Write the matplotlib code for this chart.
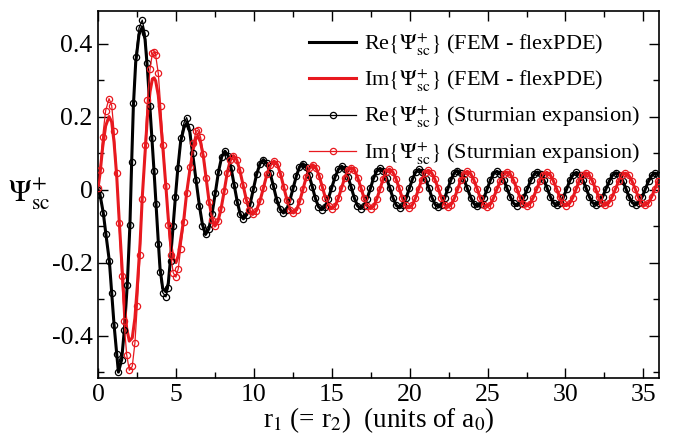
import numpy as np
import matplotlib
matplotlib.use("Agg")
import matplotlib.pyplot as plt
from matplotlib.ticker import MultipleLocator, FuncFormatter

plt.rcParams["font.family"] = ["Liberation Serif", "DejaVu Serif"]
plt.rcParams["mathtext.fontset"] = "stix"
plt.rcParams["axes.unicode_minus"] = False

# ---- Re{Psi_sc^+} : near-origin part (r in units of a0) ----
r_re_head = [0.00, 0.13, 0.34, 0.51, 0.73, 0.88, 1.03, 1.20, 1.31, 1.52,
             1.69, 1.88, 2.05, 2.16, 2.27, 2.42, 2.63, 2.84, 3.02, 3.17,
             3.34, 3.47, 3.60, 3.72, 3.87, 3.98, 4.15, 4.36, 4.51, 4.66,
             4.83, 4.97, 5.12, 5.30, 5.52, 5.69, 5.89, 6.09, 6.30, 6.50,
             6.70]
re_sturm_head = [0.000, -0.014, -0.064, -0.123, -0.196, -0.283, -0.370, -0.450, -0.500, -0.466,
                 -0.384, -0.260, -0.096, 0.076, 0.237, 0.363, 0.442, 0.464, 0.428, 0.346,
                 0.230, 0.140, 0.050, -0.040, -0.150, -0.225, -0.282, -0.294, -0.270, -0.196,
                 -0.100, -0.020, 0.060, 0.140, 0.183, 0.197, 0.170, 0.100, 0.025, -0.045,
                 -0.100]
re_fem_head = [0.000, -0.014, -0.064, -0.123, -0.196, -0.283, -0.370, -0.450, -0.500, -0.466,
               -0.384, -0.260, -0.096, 0.073, 0.228, 0.348, 0.424, 0.445, 0.411, 0.332,
               0.221, 0.134, 0.048, -0.038, -0.143, -0.215, -0.270, -0.280, -0.257, -0.187,
               -0.095, -0.019, 0.056, 0.130, 0.170, 0.182, 0.158, 0.093, 0.023, -0.042,
               -0.095]

# ---- Re{Psi_sc^+} : asymptotic part (both methods agree) ----
r_re_tail = [6.90, 7.11, 7.32, 7.53, 7.73, 7.94, 8.15, 8.35, 8.54, 8.74, 8.94, 9.13,
             9.33, 9.54, 9.76, 9.97, 10.18, 10.40, 10.61, 10.83, 11.04, 11.26, 11.47, 11.69,
             11.90, 12.11, 12.31, 12.52, 12.73, 12.93, 13.14, 13.34, 13.54, 13.75, 13.95, 14.15,
             14.35, 14.57, 14.78, 15.00, 15.21, 15.43, 15.64, 15.84, 16.04, 16.25, 16.45, 16.65,
             16.85, 17.06, 17.27, 17.48, 17.68, 17.89, 18.10, 18.31, 18.52, 18.73, 18.93, 19.14,
             19.35, 19.56, 19.77, 19.98, 20.18, 20.39, 20.60, 20.81, 21.02, 21.23, 21.43, 21.64,
             21.85, 22.05, 22.25, 22.45, 22.65, 22.85, 23.05, 23.27, 23.48, 23.70, 23.92, 24.13,
             24.35, 24.56, 24.77, 24.98, 25.18, 25.39, 25.60, 25.82, 26.03, 26.25, 26.47, 26.68,
             26.90, 27.12, 27.33, 27.55, 27.77, 27.98, 28.20, 28.41, 28.62, 28.83, 29.03, 29.24,
             29.45, 29.66, 29.87, 30.08, 30.28, 30.49, 30.70, 30.91, 31.12, 31.33, 31.53, 31.74,
             31.95, 32.17, 32.38, 32.60, 32.82, 33.03, 33.25, 33.46, 33.67, 33.88, 34.08, 34.29,
             34.50, 34.71, 34.92, 35.13, 35.33, 35.54, 35.75, 35.96]
re_tail = [-0.123, -0.108, -0.066, -0.009, 0.048, 0.090, 0.105, 0.093, 0.059, 0.013, -0.034, -0.068,
           -0.080, -0.069, -0.040, 0.001, 0.042, 0.071, 0.082, 0.072, 0.046, 0.009, -0.028, -0.054,
           -0.064, -0.055, -0.030, 0.004, 0.037, 0.062, 0.071, 0.063, 0.040, 0.008, -0.024, -0.047,
           -0.055, -0.047, -0.025, 0.005, 0.034, 0.056, 0.064, 0.056, 0.035, 0.006, -0.023, -0.044,
           -0.052, -0.045, -0.025, 0.003, 0.031, 0.051, 0.058, 0.051, 0.031, 0.004, -0.023, -0.043,
           -0.050, -0.043, -0.024, 0.003, 0.029, 0.048, 0.055, 0.048, 0.029, 0.004, -0.022, -0.041,
           -0.048, -0.041, -0.023, 0.002, 0.027, 0.045, 0.052, 0.045, 0.028, 0.003, -0.022, -0.039,
           -0.046, -0.040, -0.022, 0.002, 0.026, 0.044, 0.050, 0.044, 0.027, 0.003, -0.021, -0.038,
           -0.044, -0.038, -0.021, 0.002, 0.025, 0.042, 0.048, 0.042, 0.025, 0.003, -0.020, -0.037,
           -0.043, -0.037, -0.021, 0.002, 0.025, 0.041, 0.047, 0.041, 0.025, 0.003, -0.020, -0.036,
           -0.042, -0.036, -0.020, 0.002, 0.024, 0.040, 0.046, 0.040, 0.024, 0.002, -0.020, -0.036,
           -0.042, -0.036, -0.020, 0.002, 0.023, 0.039, 0.045, 0.040]

# ---- Im{Psi_sc^+} : near-origin part ----
r_im_head = [0.00, 0.13, 0.30, 0.49, 0.71, 0.88, 1.03, 1.20, 1.35, 1.52,
             1.67, 1.84, 2.01, 2.20, 2.37, 2.52, 2.70, 2.84, 3.02, 3.17,
             3.34, 3.49, 3.60, 3.70, 3.87, 4.02, 4.19, 4.36, 4.51, 4.66,
             4.83, 5.00, 5.15, 5.30, 5.52, 5.69, 5.90, 6.12, 6.29, 6.40,
             6.58, 6.77, 6.95, 7.13, 7.32]
im_sturm_head = [0.005, 0.053, 0.144, 0.216, 0.249, 0.230, 0.160, 0.046, -0.091, -0.236,
                 -0.361, -0.452, -0.495, -0.484, -0.420, -0.318, -0.178, -0.027, 0.121, 0.245,
                 0.330, 0.373, 0.378, 0.368, 0.318, 0.230, 0.123, 0.009, -0.096, -0.178,
                 -0.228, -0.240, -0.217, -0.164, -0.090, -0.010, 0.063, 0.127, 0.160, 0.162,
                 0.144, 0.097, 0.031, -0.035, -0.082]
im_fem_head = [0.004, 0.043, 0.116, 0.174, 0.200, 0.185, 0.130, 0.038, -0.076, -0.198,
               -0.303, -0.380, -0.415, -0.406, -0.352, -0.266, -0.148, -0.022, 0.099, 0.200,
               0.268, 0.303, 0.306, 0.298, 0.258, 0.187, 0.100, 0.007, -0.079, -0.147,
               -0.190, -0.200, -0.181, -0.138, -0.077, -0.009, 0.055, 0.112, 0.142, 0.146,
               0.130, 0.088, 0.028, -0.033, -0.078]

# ---- Im{Psi_sc^+} : asymptotic part ----
r_im_tail = [7.50, 7.70, 7.90, 8.10, 8.29, 8.49, 8.69, 8.90, 9.10, 9.31, 9.52, 9.72,
             9.93, 10.16, 10.39, 10.62, 10.84, 11.07, 11.30, 11.51, 11.71, 11.92, 12.13, 12.33,
             12.54, 12.75, 12.95, 13.16, 13.37, 13.57, 13.78, 13.98, 14.19, 14.39, 14.59, 14.80,
             15.00, 15.21, 15.42, 15.63, 15.83, 16.04, 16.25, 16.46, 16.67, 16.88, 17.08, 17.29,
             17.50, 17.70, 17.90, 18.10, 18.30, 18.50, 18.70, 18.91, 19.12, 19.33, 19.53, 19.74,
             19.95, 20.16, 20.37, 20.58, 20.78, 20.99, 21.20, 21.41, 21.62, 21.83, 22.03, 22.24,
             22.45, 22.66, 22.87, 23.08, 23.28, 23.49, 23.70, 23.91, 24.12, 24.33, 24.53, 24.74,
             24.95, 25.17, 25.38, 25.60, 25.82, 26.03, 26.25, 26.46, 26.67, 26.88, 27.08, 27.29,
             27.50, 27.72, 27.93, 28.15, 28.37, 28.58, 28.80, 29.01, 29.22, 29.43, 29.63, 29.84,
             30.05, 30.26, 30.47, 30.68, 30.88, 31.09, 31.30, 31.51, 31.72, 31.93, 32.13, 32.34,
             32.55, 32.77, 32.98, 33.20, 33.42, 33.63, 33.85, 34.06, 34.27, 34.48, 34.68, 34.89,
             35.10, 35.31, 35.52, 35.73, 35.93]
im_tail = [-0.100, -0.087, -0.052, -0.004, 0.045, 0.080, 0.093, 0.082, 0.053, 0.013, -0.028, -0.057,
           -0.068, -0.058, -0.032, 0.005, 0.042, 0.068, 0.078, 0.069, 0.043, 0.007, -0.029, -0.055,
           -0.064, -0.055, -0.031, 0.002, 0.035, 0.059, 0.068, 0.060, 0.038, 0.008, -0.022, -0.044,
           -0.052, -0.045, -0.024, 0.004, 0.032, 0.053, 0.060, 0.053, 0.032, 0.004, -0.024, -0.045,
           -0.052, -0.045, -0.025, 0.002, 0.029, 0.049, 0.056, 0.049, 0.030, 0.003, -0.024, -0.043,
           -0.050, -0.043, -0.024, 0.002, 0.027, 0.046, 0.053, 0.046, 0.028, 0.003, -0.023, -0.041,
           -0.048, -0.041, -0.024, 0.001, 0.026, 0.043, 0.050, 0.044, 0.026, 0.002, -0.023, -0.041,
           -0.047, -0.041, -0.023, 0.001, 0.024, 0.042, 0.048, 0.042, 0.025, 0.002, -0.022, -0.039,
           -0.045, -0.039, -0.022, 0.001, 0.024, 0.041, 0.047, 0.041, 0.024, 0.002, -0.021, -0.038,
           -0.044, -0.038, -0.022, 0.001, 0.024, 0.040, 0.046, 0.040, 0.024, 0.002, -0.021, -0.037,
           -0.043, -0.037, -0.021, 0.001, 0.023, 0.039, 0.045, 0.039, 0.023, 0.001, -0.021, -0.037,
           -0.043, -0.037, -0.021, 0.001, 0.023]

series_labels = [
    r"Re$\{\Psi_{\rm sc}^{+}\}$ (FEM - flexPDE)",
    r"Im$\{\Psi_{\rm sc}^{+}\}$ (FEM - flexPDE)",
    r"Re$\{\Psi_{\rm sc}^{+}\}$ (Sturmian expansion)",
    r"Im$\{\Psi_{\rm sc}^{+}\}$ (Sturmian expansion)",
]
y_ticks = [-0.4, -0.2, 0.0, 0.2, 0.4]
x_ticks = [0, 5, 10, 15, 20, 25, 30, 35]

BLACK = "#000000"
RED = "#e8191f"

r_re = np.concatenate([r_re_head, r_re_tail])
r_im = np.concatenate([r_im_head, r_im_tail])
re_fem = np.concatenate([re_fem_head, re_tail])
re_sturm = np.concatenate([re_sturm_head, re_tail])
im_fem = np.concatenate([im_fem_head, im_tail])
im_sturm = np.concatenate([im_sturm_head, im_tail])

fig = plt.figure(figsize=(6.8, 4.42), dpi=100)
ax = fig.add_axes([0.1441, 0.1448, 0.8250, 0.8303])

ax.plot(r_re, re_fem, color=BLACK, lw=2.2, label=series_labels[0], zorder=2)
ax.plot(r_im, im_fem, color=RED, lw=2.2, label=series_labels[1], zorder=2)
ax.plot(r_re, re_sturm, color=BLACK, lw=0.9, marker="o", ms=4.5, mfc="none",
        mec=BLACK, mew=0.9, label=series_labels[2], zorder=3)
ax.plot(r_im, im_sturm, color=RED, lw=0.9, marker="o", ms=4.5, mfc="none",
        mec=RED, mew=0.9, label=series_labels[3], zorder=4)

ax.set_xlim(0, 36)
ax.set_ylim(-0.516, 0.489)
ax.xaxis.set_minor_locator(MultipleLocator(2.5))
ax.yaxis.set_minor_locator(MultipleLocator(0.1))
ax.set_xticks(x_ticks)
ax.set_yticks(y_ticks)
ax.yaxis.set_major_formatter(FuncFormatter(lambda v, p: f"{v:g}".replace("\u2212", "-")))
ax.tick_params(which="both", direction="in", top=True, right=True, labelsize=18.5)
ax.tick_params(which="major", length=7, width=1.0, pad=4)
ax.tick_params(which="minor", length=4, width=1.0)
for s in ax.spines.values():
    s.set_linewidth(1.2)

ax.set_xlabel(r"r$_1$ (= r$_2$)  (units of a$_0$)", fontsize=19.5, labelpad=0)
ax.set_ylabel(r"$\Psi_{\rm sc}^{+}$", fontsize=22, rotation=0, labelpad=16, va="center")

leg = ax.legend(loc="upper right", bbox_to_anchor=(0.985, 0.975), frameon=False,
                fontsize=16, handlelength=2.1, handletextpad=0.35, labelspacing=0.45,
                borderpad=0.0)

fig.savefig("out.png", dpi=100)
